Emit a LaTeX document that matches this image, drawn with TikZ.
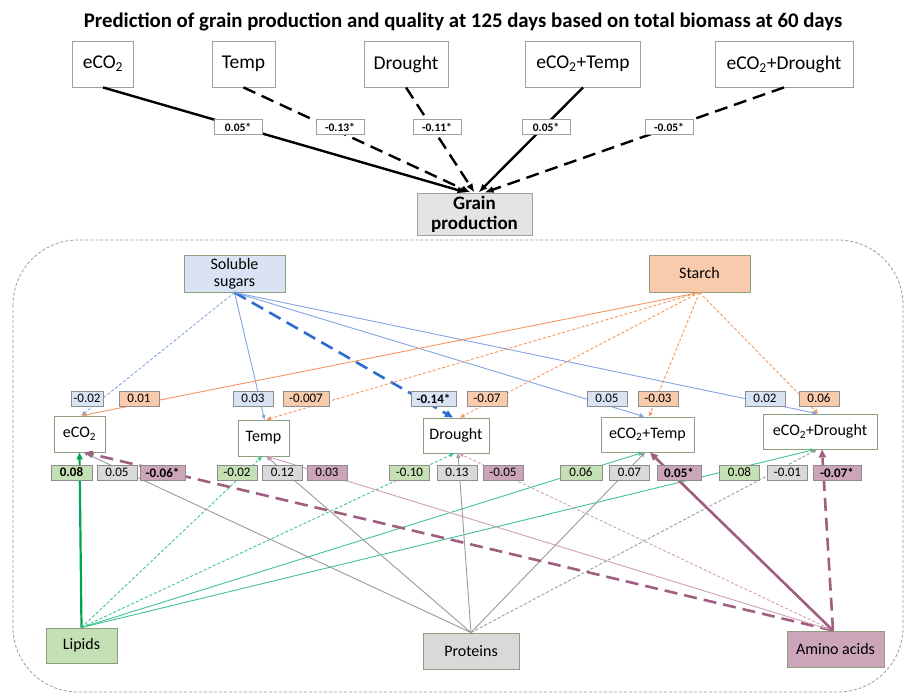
\documentclass[tikz,border=0pt]{standalone}
\usepackage{fontspec}
\setmainfont{Carlito}
\usetikzlibrary{arrows.meta}
\definecolor{topgray}{HTML}{A0A0A0}
\definecolor{nodeedge}{HTML}{8E9E80}
\definecolor{labedge}{HTML}{8C8C8C}
\definecolor{grainfill}{HTML}{E6E3E3}
\definecolor{sugarfill}{HTML}{DAE3F3}
\definecolor{starchfill}{HTML}{F8CBAD}
\definecolor{lipidfill}{HTML}{C5E0B4}
\definecolor{protfill}{HTML}{D9D9D9}
\definecolor{aminofill}{HTML}{CDA5B8}
\definecolor{blueln}{HTML}{82A4E0}
\definecolor{bluethk}{HTML}{2A6CCF}
\definecolor{orangeln}{HTML}{F3975E}
\definecolor{greenln}{HTML}{3FC38F}
\definecolor{greenthk}{HTML}{00A550}
\definecolor{grayln}{HTML}{9A9A9A}
\definecolor{purpleln}{HTML}{CFA0B8}
\definecolor{purplethk}{HTML}{A05F80}
\definecolor{outerln}{HTML}{9A9A9A}
\begin{document}
\begin{tikzpicture}[x=1pt,y=-1pt,
  topbox/.style={draw=topgray, line width=0.9pt, fill=white, minimum height=46pt, inner sep=0pt, font=\fontsize{19.5}{22}\selectfont},
  toplab/.style={draw=topgray, line width=0.7pt, fill=white, minimum width=48pt, minimum height=15pt, inner sep=0pt, font=\bfseries\fontsize{11.5}{13}\selectfont},
  vbox/.style={draw=nodeedge, line width=0.9pt, fill=white, inner sep=0pt, font=\fontsize{16}{17}\selectfont, align=center},
  lab/.style={draw=labedge, line width=0.8pt, minimum width=40pt, minimum height=15pt, inner sep=0pt, font=\fontsize{13}{14}\selectfont},
  labb/.style={lab, font=\bfseries\fontsize{13}{14}\selectfont},
  topedge/.style={line width=2.4pt, black, -{Latex[length=9pt,width=7pt]}},
  ln/.style={line width=0.9pt, -{Triangle[length=4.5pt,width=4pt]}},
  thk/.style={line width=2.6pt, -{Triangle[length=8pt,width=7pt]}},
  sdash/.style={dash pattern=on 3pt off 2pt},
  ldash/.style={dash pattern=on 13pt off 7pt},
]
\useasboundingbox (0,0) rectangle (910,695);

% title
\node[anchor=base, font=\bfseries\fontsize{20.8}{24}\selectfont, inner sep=0pt] (title) at (463,28)
  {Prediction of grain production and quality at 125 days based on total biomass at 60 days};

% top boxes
\node[topbox, minimum width=61pt] (e1) at (103,64) {eCO\textsubscript{2}};
\node[topbox, minimum width=63pt] (t1) at (243.5,64) {Temp};
\node[topbox, minimum width=84pt] (d1) at (406,64) {Drought};
\node[topbox, minimum width=115pt] (et1) at (583,64) {eCO\textsubscript{2}+Temp};
\node[topbox, minimum width=138pt] (ed1) at (784,64) {eCO\textsubscript{2}+Drought};
\node[draw=topgray, line width=0.9pt, fill=grainfill, minimum width=115pt, minimum height=42pt, inner sep=0pt,
  align=center, font=\bfseries\fontsize{19}{20}\selectfont] (grain) at (474.5,214) {Grain\\production};

\draw[topedge] (e1.south) -- ([xshift=-8pt]grain.north);
\draw[topedge, ldash] (t1.south) -- ([xshift=-4pt]grain.north);
\draw[topedge, ldash] (d1.south) -- ([xshift=0pt]grain.north);
\draw[topedge] (et1.south) -- ([xshift=4pt]grain.north);
\draw[topedge, ldash] (ed1.south) -- ([xshift=10pt]grain.north);

\node[toplab] (tl1) at (238,127) {0.05*};
\node[toplab] (tl2) at (340,127) {-0.13*};
\node[toplab] (tl3) at (437,127) {-0.11*};
\node[toplab] (tl4) at (546,127) {0.05*};
\node[toplab] (tl5) at (669,127) {-0.05*};

% outer dashed frame
\draw[outerln, line width=0.8pt, sdash, rounded corners=65pt] (13,240) rectangle (903,692);

% source boxes
\node[vbox, fill=sugarfill, minimum width=101pt, minimum height=37pt] (sugar) at (234.5,273.5) {Soluble\\sugars};
\node[vbox, fill=starchfill, minimum width=101pt, minimum height=37pt] (starch) at (699.5,273.5) {Starch};
\node[vbox, fill=lipidfill, minimum width=71pt, minimum height=35pt] (lipids) at (81.5,645.5) {Lipids};
\node[vbox, fill=protfill, minimum width=96pt, minimum height=36pt] (proteins) at (471,651) {Proteins};
\node[vbox, fill=aminofill, minimum width=97pt, minimum height=36pt] (amino) at (835.5,649) {Amino acids};

% treatment boxes
\node[vbox, minimum width=51pt, minimum height=36pt] (eco) at (79.5,434) {eCO\textsubscript{2}};
\node[vbox, minimum width=51pt, minimum height=36pt] (temp) at (263.5,438) {Temp};
\node[vbox, minimum width=66pt, minimum height=35pt] (drought) at (456,435.5) {Drought};
\node[vbox, minimum width=93pt, minimum height=35pt] (ecot) at (647.5,434.5) {eCO\textsubscript{2}+Temp};
\node[vbox, minimum width=114pt, minimum height=35pt] (ecod) at (820,431.5) {eCO\textsubscript{2}+Drought};

% soluble sugars edges
\draw[ln, blueln, sdash] (sugar.south) -- ([xshift=2pt]eco.north);
\draw[ln, blueln] (sugar.south) -- ([xshift=1pt]temp.north);
\draw[thk, bluethk, ldash] (sugar.south) -- ([xshift=-3pt]drought.north);
\draw[ln, blueln] (sugar.south) -- ([xshift=-3.5pt]ecot.north);
\draw[ln, blueln] (sugar.south) -- ([xshift=-3pt]ecod.north);

% starch edges
\draw[ln, orangeln] (starch.south) -- ([xshift=2.5pt]eco.north);
\draw[ln, orangeln, sdash] (starch.south) -- ([xshift=3pt]temp.north);
\draw[ln, orangeln, sdash] (starch.south) -- ([xshift=4pt]drought.north);
\draw[ln, orangeln, sdash] (starch.south) -- ([xshift=1.5pt]ecot.north);
\draw[ln, orangeln, sdash] (starch.south) -- ([xshift=-2pt]ecod.north);

% lipids edges
\draw[line width=2.2pt, greenthk, -{Triangle[length=7pt,width=6pt]}] (lipids.north) -- ([xshift=0pt]eco.south);
\draw[ln, greenln, sdash] (lipids.north) -- ([xshift=-1.5pt]temp.south);
\draw[ln, greenln, sdash] (lipids.north) -- ([xshift=-2pt]drought.south);
\draw[ln, greenln] (lipids.north) -- ([xshift=-4.5pt]ecot.south);
\draw[ln, greenln] (lipids.north) -- ([xshift=-5pt]ecod.south);

% proteins edges
\draw[ln, grayln] (proteins.north) -- ([xshift=4pt]eco.south);
\draw[ln, grayln] (proteins.north) -- ([xshift=3pt]temp.south);
\draw[ln, grayln] (proteins.north) -- ([xshift=2pt]drought.south);
\draw[ln, grayln] (proteins.north) -- ([xshift=-2.5pt]ecot.south);
\draw[ln, grayln, sdash] (proteins.north) -- ([xshift=-3pt]ecod.south);

% amino acids edges
\draw[thk, purplethk, ldash] ([xshift=-2.5pt]amino.north) -- ([xshift=5pt]eco.south);
\draw[ln, purpleln] ([xshift=-2.5pt]amino.north) -- ([xshift=4pt]temp.south);
\draw[ln, purpleln, sdash] ([xshift=-2.5pt]amino.north) -- ([xshift=3pt]drought.south);
\draw[thk, purplethk] ([xshift=-2.5pt]amino.north) -- ([xshift=2.5pt]ecot.south);
\draw[thk, purplethk, ldash] ([xshift=-2.5pt]amino.north) -- ([xshift=2pt]ecod.south);

% upper labels
\node[lab, fill=sugarfill, minimum width=32pt] (ua1) at (87,398.5) {-0.02};
\node[lab, fill=starchfill] (ub1) at (139,398.5) {0.01};
\node[lab, fill=sugarfill] (ua2) at (253,398.5) {0.03};
\node[lab, fill=starchfill, minimum width=46pt] (ub2) at (306,398.5) {-0.007};
\node[labb, fill=sugarfill, minimum width=45pt] (ua3) at (433.5,398.5) {-0.14*};
\node[lab, fill=starchfill] (ub3) at (487,398.5) {-0.07};
\node[lab, fill=sugarfill] (ua4) at (607,398.5) {0.05};
\node[lab, fill=starchfill] (ub4) at (658,398.5) {-0.03};
\node[lab, fill=sugarfill] (ua5) at (765,398.5) {0.02};
\node[lab, fill=starchfill] (ub5) at (819,398.5) {0.06};

% lower labels
\node[labb, fill=lipidfill, minimum width=41pt] (la1) at (71.5,472.5) {0.08};
\node[lab, fill=protfill] (lb1) at (117,472.5) {0.05};
\node[labb, fill=aminofill, minimum width=45pt] (lc1) at (162.5,472.5) {-0.06*};
\node[lab, fill=lipidfill] (la2) at (237,472.5) {-0.02};
\node[lab, fill=protfill] (lb2) at (282.5,472.5) {0.12};
\node[lab, fill=aminofill] (lc2) at (327,472.5) {0.03};
\node[lab, fill=lipidfill] (la3) at (409.5,472.5) {-0.10};
\node[lab, fill=protfill] (lb3) at (457,472.5) {0.13};
\node[lab, fill=aminofill] (lc3) at (503,472.5) {-0.05};
\node[lab, fill=lipidfill, minimum width=42pt] (la4) at (581,472.5) {0.06};
\node[lab, fill=protfill] (lb4) at (629.5,472.5) {0.07};
\node[labb, fill=aminofill, minimum width=44pt] (lc4) at (679,472.5) {0.05*};
\node[lab, fill=lipidfill] (la5) at (739.5,472.5) {0.08};
\node[lab, fill=protfill] (lb5) at (787.5,472.5) {-0.01};
\node[labb, fill=aminofill, minimum width=48pt] (lc5) at (837,472.5) {-0.07*};
\end{tikzpicture}
\end{document}
